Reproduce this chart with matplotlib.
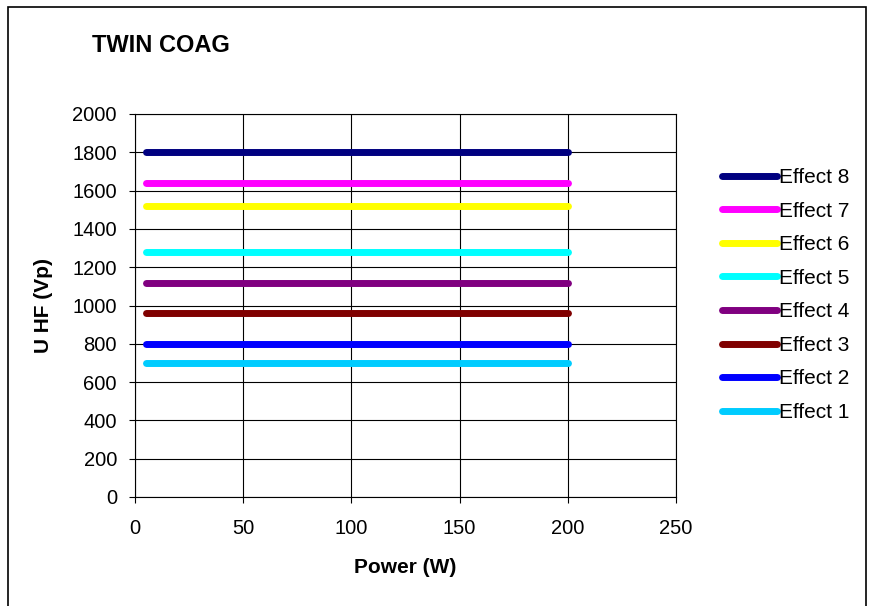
import matplotlib
matplotlib.use('Agg')
import matplotlib.pyplot as plt
from matplotlib.patches import Rectangle

plt.rcParams['font.family'] = ['Liberation Sans', 'DejaVu Sans']

# 数据
power = [5, 200]
labels = ['Effect 1', 'Effect 2', 'Effect 3', 'Effect 4',
          'Effect 5', 'Effect 6', 'Effect 7', 'Effect 8']
u_hf = [700, 800, 960, 1120, 1280, 1520, 1640, 1800]
colors = ['#00CCFF', '#0000FF', '#800000', '#800080',
          '#00FFFF', '#FFFF00', '#FF00FF', '#000080']
x_ticks = [0, 50, 100, 150, 200, 250]
y_ticks = list(range(0, 2001, 200))

fig = plt.figure(figsize=(8.72, 6.06), dpi=100)
ax = fig.add_axes([135 / 872, 1 - 497 / 606, 541 / 872, 383 / 606])

lines = []
for lab, val, col in zip(labels, u_hf, colors):
    ln, = ax.plot(power, [val] * len(power), color=col, lw=5,
                  solid_capstyle='round', label=lab, zorder=3)
    lines.append(ln)

ax.set_xlim(0, 250)
ax.set_ylim(0, 2000)
ax.set_xticks(x_ticks)
ax.set_yticks(y_ticks)
ax.grid(True, color='black', lw=0.8)
ax.tick_params(labelsize=14.5, direction='out', length=4, width=0.8)
ax.tick_params(axis='x', pad=11.5)
ax.tick_params(axis='y', pad=9)
for s in ax.spines.values():
    s.set_linewidth(0.8)
ax.set_xlabel('Power (W)', fontsize=15, fontweight='bold', labelpad=15)
ax.set_ylabel('U HF (Vp)', fontsize=15, fontweight='bold', labelpad=14)

fig.text(92 / 872, 1 - 45 / 606, 'TWIN COAG', fontsize=17, fontweight='bold',
         va='center', ha='left')

fig.legend(lines[::-1], labels[::-1], loc='center left',
           bbox_to_anchor=(722 / 872, 1 - 295 / 606), frameon=False,
           fontsize=15, handlelength=2.65, handletextpad=0.1,
           labelspacing=0.7, borderpad=0, borderaxespad=0)

# 外框
fig.patches.append(Rectangle((7.5 / 872, -0.05), (866 - 7.5) / 872, 1.05 - 7.5 / 606,
                             transform=fig.transFigure, fill=False,
                             edgecolor='black', lw=1.2))

fig.savefig('out.png', dpi=100)
